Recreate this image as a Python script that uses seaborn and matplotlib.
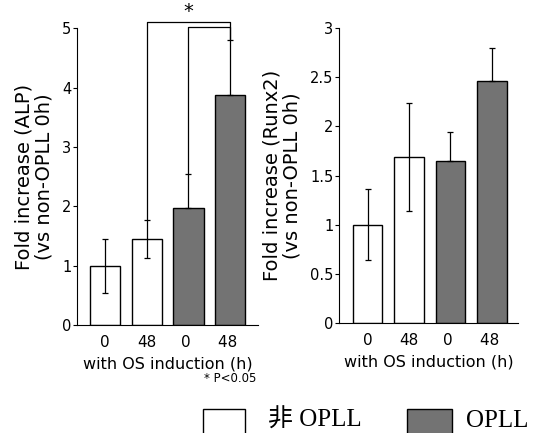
import numpy as np
import pandas as pd
import matplotlib
matplotlib.use('Agg')
import matplotlib.pyplot as plt
from matplotlib.patches import Rectangle
import seaborn as sns

# ── data ──────────────────────────────────────────────────────────────────────
conditions = ['0', '48', '0 ', '48 ']
groups = ['非 OPLL', '非 OPLL', 'OPLL', 'OPLL']

alp_mean = [1.00, 1.45, 1.97, 3.87]
alp_lo = [0.45, 0.32, 0.00, 0.00]
alp_hi = [0.45, 0.32, 0.58, 0.93]

runx_mean = [1.00, 1.69, 1.65, 2.46]
runx_lo = [0.36, 0.55, 0.00, 0.00]
runx_hi = [0.36, 0.55, 0.29, 0.34]

palette = {'非 OPLL': 'white', 'OPLL': '#737373'}

sns.set_style('ticks')
plt.rcParams['font.family'] = ['DejaVu Sans', 'Noto Sans CJK JP']
for k in ['text.color', 'axes.labelcolor', 'xtick.color', 'ytick.color', 'axes.edgecolor']:
    plt.rcParams[k] = 'black'

fig = plt.figure(figsize=(5.38, 4.33), dpi=100)
ax1 = fig.add_axes([0.143, 0.249, 0.337, 0.686])
ax2 = fig.add_axes([0.630, 0.254, 0.333, 0.681])


def draw(ax, mean, lo, hi, ylabel, ymax, ystep, xlim):
    df = pd.DataFrame({'cond': conditions, 'group': groups, 'val': mean})
    sns.barplot(data=df, x='cond', y='val', hue='group', palette=palette,
                order=conditions, dodge=False, width=0.72, edgecolor='black',
                linewidth=1.0, legend=False, ax=ax)
    ax.errorbar(np.arange(len(mean)), mean, yerr=[lo, hi], fmt='none',
                ecolor='black', elinewidth=0.9, capsize=2.5, capthick=0.9)
    ax.set_xlim(*xlim)
    ax.set_ylim(0, ymax)
    ax.set_yticks(np.arange(0, ymax + 1e-9, ystep))
    ax.yaxis.set_major_formatter(matplotlib.ticker.FormatStrFormatter('%g'))
    ax.tick_params(axis='x', length=0, labelsize=11, pad=7)
    ax.tick_params(axis='y', length=3, labelsize=10.5, pad=1)
    ax.set_xlabel('with OS induction (h)', fontsize=11.5, labelpad=5)
    ax.set_ylabel(ylabel, fontsize=14, labelpad=6, linespacing=1.1)
    for s in ['top', 'right']:
        ax.spines[s].set_visible(False)


draw(ax1, alp_mean, alp_lo, alp_hi,
     'Fold increase (ALP)\n(vs non-OPLL 0h)', 5, 1, (-0.67, 3.67))
draw(ax2, runx_mean, runx_lo, runx_hi,
     'Fold increase (Runx2)\n(vs non-OPLL 0h)', 3, 0.5, (-0.69, 3.63))

# significance brackets on ALP panel
top_outer, top_inner = 5.10, 5.02
ax1.plot([1, 1, 3, 3], [alp_mean[1] + alp_hi[1], top_outer, top_outer, alp_mean[3] + alp_hi[3]],
         color='black', lw=0.9, clip_on=False)
ax1.plot([2, 2, 3, 3], [alp_mean[2] + alp_hi[2], top_inner, top_inner, alp_mean[3] + alp_hi[3]],
         color='black', lw=0.9, clip_on=False)
ax1.text(2, 5.12, '*', ha='center', va='bottom', fontsize=14, clip_on=False)
fig.text(0.476, 0.127, '* P<0.05', ha='right', va='center', fontsize=8.5)

# legend (boxes run off the bottom edge, as in the original)
legend_items = [('非 OPLL', 203, 245, 268), ('OPLL', 407, 452, 466)]
W, H = 538, 433
for label, x0, x1, tx in legend_items:
    fig.add_artist(Rectangle((x0 / W, -0.05), (x1 - x0) / W, 0.05 + (H - 409) / H,
                             transform=fig.transFigure, facecolor=palette[label],
                             edgecolor='black', linewidth=1.0, clip_on=False))
    fig.text(tx / W, 0.014, label, ha='left', va='baseline', fontsize=18,
             family=['Liberation Serif', 'Noto Sans CJK JP'])

fig.savefig('out.png', dpi=100)
